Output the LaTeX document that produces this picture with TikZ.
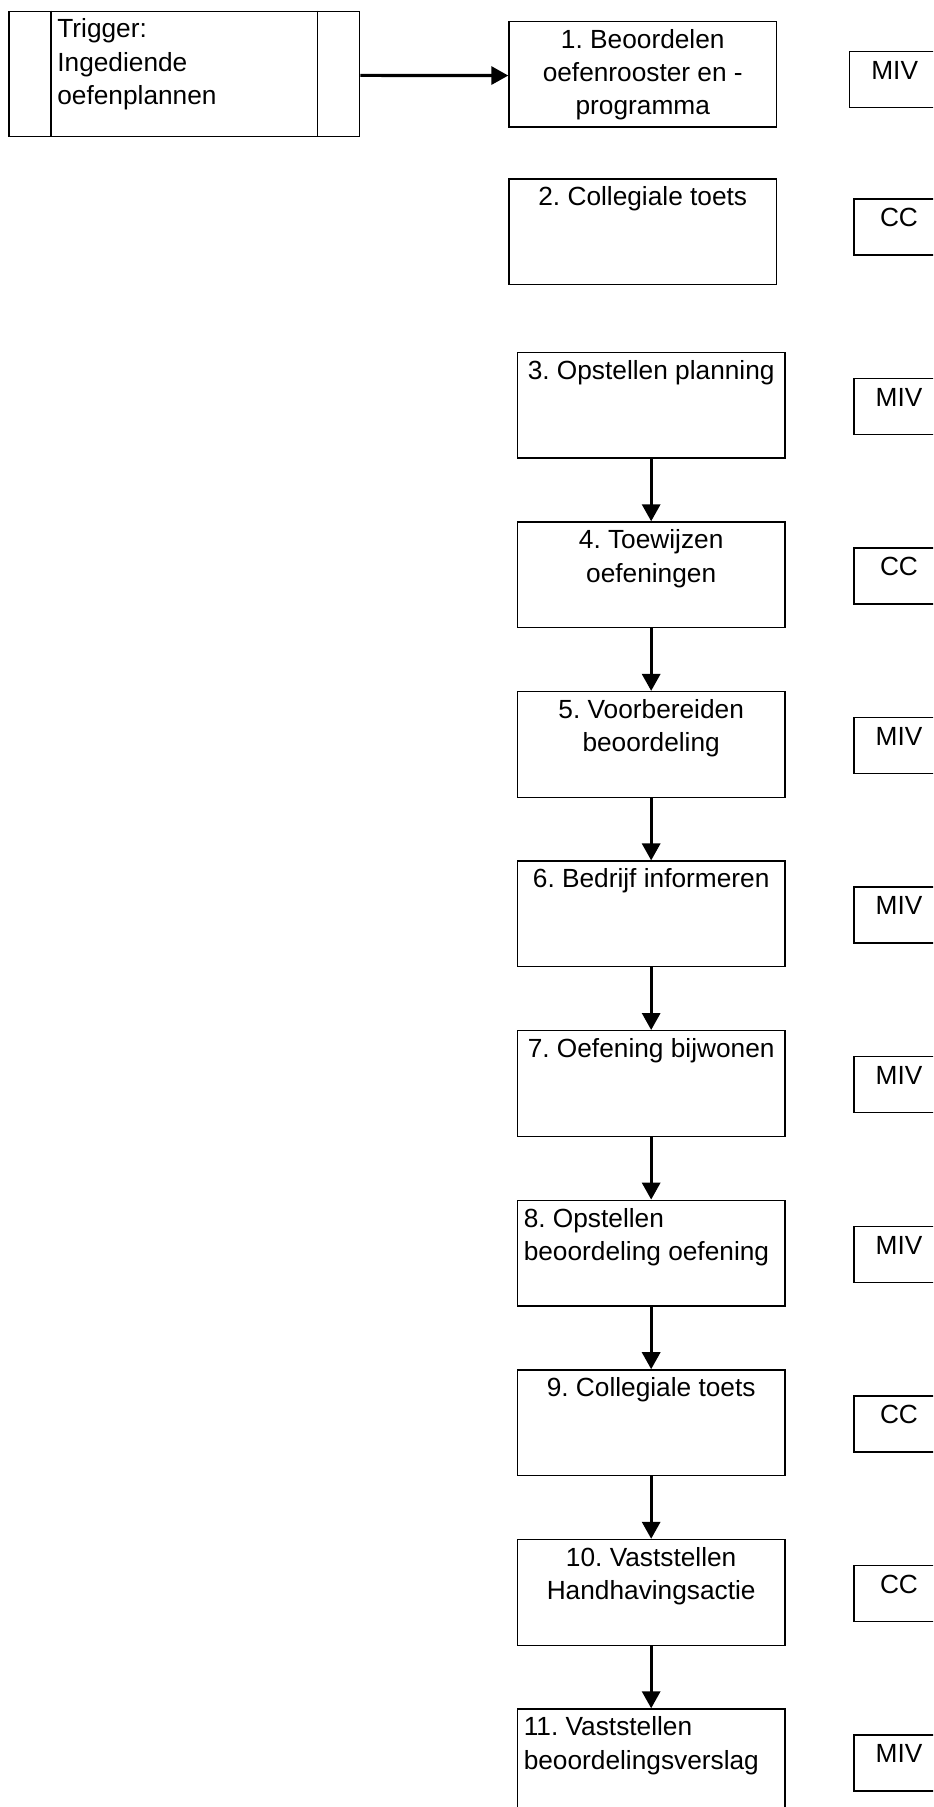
\documentclass[tikz,border=0pt]{standalone}
\usepackage{fontspec}
\setmainfont{Liberation Sans}
\usetikzlibrary{arrows.meta}
\frenchspacing
\newcommand{\mtext}[2]{\parbox[t][79.3pt][t]{200.7pt}{\frenchspacing#1\rule{0pt}{20.1pt}#2}}
\newcommand{\stext}[1]{\parbox[t][42pt][t]{67.5pt}{\centering\rule{0pt}{20.8pt}#1}}
\newcommand{\leftind}{\raggedright\leftskip=4.8pt\relax}
\begin{document}
\begin{tikzpicture}[x=0.75pt,y=-0.75pt,
  every node/.style={font=\fontsize{19.7}{25}\selectfont, inner sep=0pt, anchor=north west},
  mainbox/.style={draw, line width=1pt, minimum width=200.7pt, minimum height=79.3pt},
  sidebox/.style={draw, line width=1pt, minimum width=67.5pt, minimum height=42pt},
  flow/.style={line width=2.4pt, -{Triangle[length=12.75pt,width=13.5pt]}}]
\useasboundingbox (0,0) rectangle (933,1807);
\clip (0,0) rectangle (933,1807);
% trigger
\node[draw, line width=1pt, minimum width=263pt, minimum height=94pt] (trig) at (8.3,10.7)
  {\parbox[t][94pt][t]{263pt}{\frenchspacing\raggedright\leftskip=36.3pt\relax\rule{0pt}{19.9pt}Trigger:\\Ingediende\\oefenplannen}};
\draw[line width=1pt] ([xshift=32pt]trig.north west) -- ([xshift=32pt]trig.south west);
\draw[line width=1pt] ([xshift=-32.3pt]trig.north east) -- ([xshift=-32.3pt]trig.south east);
% main boxes
\node[mainbox] (b1) at (508.3,20.7) {\mtext{\centering}{1. Beoordelen\\oefenrooster en -\\programma}};
\node[mainbox] (b2) at (508.3,178.3) {\mtext{\centering}{2. Collegiale toets}};
\node[mainbox] (b3) at (516.7,351.7) {\mtext{\centering}{3. Opstellen planning}};
\node[mainbox] (b4) at (516.7,521.3) {\mtext{\centering}{4. Toewijzen\\oefeningen}};
\node[mainbox] (b5) at (516.7,690.9) {\mtext{\centering}{5. Voorbereiden\\beoordeling}};
\node[mainbox] (b6) at (516.7,860.4) {\mtext{\centering}{6. Bedrijf informeren}};
\node[mainbox] (b7) at (516.7,1030.0) {\mtext{\centering}{7. Oefening bijwonen}};
\node[mainbox] (b8) at (516.7,1199.6) {\mtext{\leftind}{8. Opstellen\\beoordeling oefening}};
\node[mainbox] (b9) at (516.7,1369.2) {\mtext{\centering}{9. Collegiale toets}};
\node[mainbox] (b10) at (516.7,1538.8) {\mtext{\centering}{10. Vaststellen\\Handhavingsactie}};
\node[mainbox] (b11) at (516.7,1708.3) {\mtext{\leftind}{11. Vaststellen\\beoordelingsverslag}};
% side boxes
\node[sidebox] (s1) at (849,50.7) {\stext{MIV}};
\node[sidebox] (s2) at (853.3,198.3) {\stext{CC}};
\node[sidebox] (s3) at (853.3,377.7) {\stext{MIV}};
\node[sidebox] (s4) at (853.3,547.3) {\stext{CC}};
\node[sidebox] (s5) at (853.3,716.9) {\stext{MIV}};
\node[sidebox] (s6) at (853.3,886.4) {\stext{MIV}};
\node[sidebox] (s7) at (853.3,1056.0) {\stext{MIV}};
\node[sidebox] (s8) at (853.3,1225.6) {\stext{MIV}};
\node[sidebox] (s9) at (853.3,1395.2) {\stext{CC}};
\node[sidebox] (s10) at (853.3,1564.8) {\stext{CC}};
\node[sidebox] (s11) at (853.3,1734.3) {\stext{MIV}};
% connectors
\draw[flow] ([yshift=-1pt]trig.east) -- ([yshift=-1pt]b1.west);
\draw[flow] (b3.south) -- (b4.north);
\draw[flow] (b4.south) -- (b5.north);
\draw[flow] (b5.south) -- (b6.north);
\draw[flow] (b6.south) -- (b7.north);
\draw[flow] (b7.south) -- (b8.north);
\draw[flow] (b8.south) -- (b9.north);
\draw[flow] (b9.south) -- (b10.north);
\draw[flow] (b10.south) -- (b11.north);
\end{tikzpicture}
\end{document}
